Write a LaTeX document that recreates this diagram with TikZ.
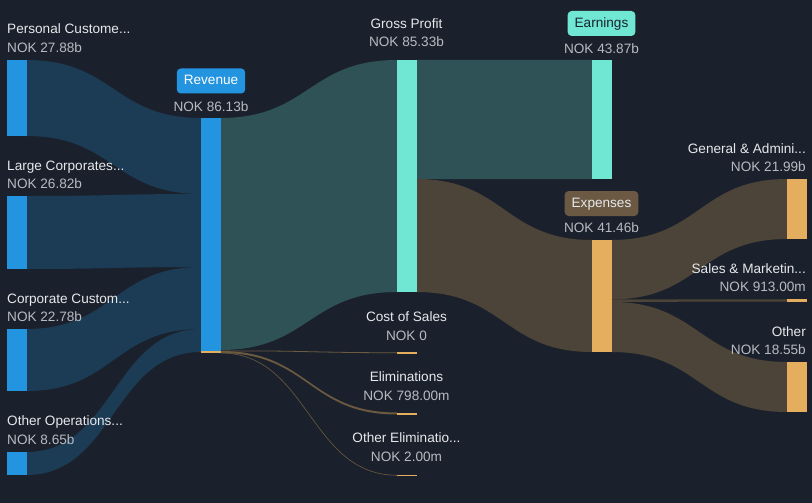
\documentclass[tikz,border=0pt]{standalone}
\usepackage{fontspec}
\setmainfont{Liberation Sans}
\usepackage{xcolor}
\definecolor{bg-dark}{HTML}{1B212C}
\definecolor{bar-blue}{HTML}{2394DF}
\definecolor{bar-teal}{HTML}{6FE7D3}
\definecolor{bar-orange}{HTML}{E5AE5F}
\definecolor{flow-blue}{HTML}{1C3C55}
\definecolor{flow-teal}{HTML}{2F5256}
\definecolor{flow-brown}{HTML}{4C4438}
\definecolor{flow-thin}{HTML}{6B5A40}
\definecolor{badge-brown}{HTML}{6B5943}
\definecolor{title-grey}{HTML}{E6E8EB}
\definecolor{value-grey}{HTML}{B7BBC1}
\newcommand{\chartfont}{\fontsize{13.6}{16}\selectfont}
\newcommand{\band}[7]{\fill[#7] (#1,#2) .. controls ({(#1+#4)/2},#2) and ({(#1+#4)/2},#5) .. (#4,#5) -- (#4,#6) .. controls ({(#1+#4)/2},#6) and ({(#1+#4)/2},#3) .. (#1,#3) -- cycle;}
\tikzset{
    bar/.style = {rectangle, inner sep=0pt, outer sep=0pt, minimum width=19.5pt, anchor=north west},
    blue-bar/.style = {bar, fill=bar-blue},
    teal-bar/.style = {bar, fill=bar-teal},
    orange-bar/.style = {bar, fill=bar-orange},
    title-text/.style = {text=title-grey, font=\chartfont, inner sep=0pt, anchor=base},
    value-text/.style = {text=value-grey, font=\chartfont, inner sep=0pt, anchor=base},
    badge/.style = {rectangle, rounded corners=4pt, inner xsep=7pt, inner ysep=0pt, minimum height=25pt, text height=10pt, text depth=2.6pt, font=\chartfont},
    thin-flow/.style = {draw=flow-thin, line width=0.8pt},
}

\begin{document}
\begin{tikzpicture}[x=1pt, y=-1pt]
\fill[bg-dark] (0,0) rectangle (812,503);
\band{26.5}{60}{136}{201}{118}{194}{flow-blue}
\band{26.5}{196}{269}{201}{194}{267}{flow-blue}
\band{26.5}{329}{391}{201}{267}{329}{flow-blue}
\band{26.5}{452}{475}{201}{329}{352}{flow-blue}
\band{220.5}{118}{350}{397}{60}{292}{flow-teal}
\band{416.5}{60}{179}{592}{60}{179}{flow-teal}
\band{416.5}{179}{292}{592}{240}{352}{flow-brown}
\band{611.5}{240}{299.4}{787}{179}{239}{flow-brown}
\band{611.5}{299.4}{301.9}{787}{299.3}{301.5}{flow-brown}
\band{611.5}{301.9}{352}{787}{362}{412}{flow-brown}
\band{220.5}{351}{353}{397}{412.5}{414.5}{flow-thin}

\node[blue-bar, minimum height=76pt] (personal) at (7,60) {};
\node[blue-bar, minimum height=73pt] (large) at (7,196) {};
\node[blue-bar, minimum height=62pt] (corporate) at (7,329) {};
\node[blue-bar, minimum height=23pt] (operations) at (7,452) {};
\node[blue-bar, minimum height=233pt] (revenue) at (201,118) {};
\node[orange-bar, minimum height=2pt] (revenue-rest) at (201,351) {};
\node[teal-bar, minimum height=232pt] (gross) at (397,60) {};
\node[orange-bar, minimum height=1.5pt] (cost) at (397,352) {};
\node[orange-bar, minimum height=2pt] (elim) at (397,412.5) {};
\node[orange-bar, minimum height=1.5pt] (other-elim) at (397,474.5) {};
\node[teal-bar, minimum height=119pt] (earnings) at (592,60) {};
\node[orange-bar, minimum height=112pt] (expenses) at (592,240) {};
\node[orange-bar, minimum height=60pt] (admin) at (787,179) {};
\node[orange-bar, minimum height=2.2pt] (sales) at (787,299.3) {};
\node[orange-bar, minimum height=50pt] (other) at (787,362) {};

\draw[thin-flow] (revenue-rest.north east) .. controls (309,350.5) and (309,352.7) .. (cost.west);
\draw[thin-flow, line width=0.6pt] (revenue-rest.south east) .. controls (309,353) and (309,475.2) .. (other-elim.west);

\node[title-text, anchor=base west] at (7,34) {Personal Custome...};
\node[value-text, anchor=base west] at (7,53) {NOK 27.88b};
\node[title-text, anchor=base west] at (7,170) {Large Corporates...};
\node[value-text, anchor=base west] at (7,188.5) {NOK 26.82b};
\node[title-text, anchor=base west] at (7,303) {Corporate Custom...};
\node[value-text, anchor=base west] at (7,321.5) {NOK 22.78b};
\node[title-text, anchor=base west] at (7,425.5) {Other Operations...};
\node[value-text, anchor=base west] at (7,444) {NOK 8.65b};

\node[badge, fill=bar-blue, text=white] (revenue-badge) at (211,81) {Revenue};
\node[value-text] at (211,111) {NOK 86.13b};
\node[title-text] at (406.5,28.3) {Gross Profit};
\node[value-text] at (406.5,46.7) {NOK 85.33b};
\node[title-text] at (406.5,321) {Cost of Sales};
\node[value-text] at (406.5,340) {NOK 0};
\node[title-text] at (406.5,381.7) {Eliminations};
\node[value-text] at (406.5,400) {NOK 798.00m};
\node[title-text] at (406.5,442.7) {Other Eliminatio...};
\node[value-text] at (406.5,461.7) {NOK 2.00m};

\node[badge, fill=bar-teal, text=bg-dark] (earnings-badge) at (601.5,23.5) {Earnings};
\node[value-text] at (601.5,53.3) {NOK 43.87b};
\node[badge, fill=badge-brown, text=title-grey] (expenses-badge) at (601.5,203.5) {Expenses};
\node[value-text] at (601.5,232.7) {NOK 41.46b};

\node[title-text, anchor=base east] at (806,153.3) {General \& Admini...};
\node[value-text, anchor=base east] at (806,171.7) {NOK 21.99b};
\node[title-text, anchor=base east] at (806,273.3) {Sales \& Marketin...};
\node[value-text, anchor=base east] at (806,291.7) {NOK 913.00m};
\node[title-text, anchor=base east] at (806,336) {Other};
\node[value-text, anchor=base east] at (806,354.3) {NOK 18.55b};
\end{tikzpicture}
\end{document}
